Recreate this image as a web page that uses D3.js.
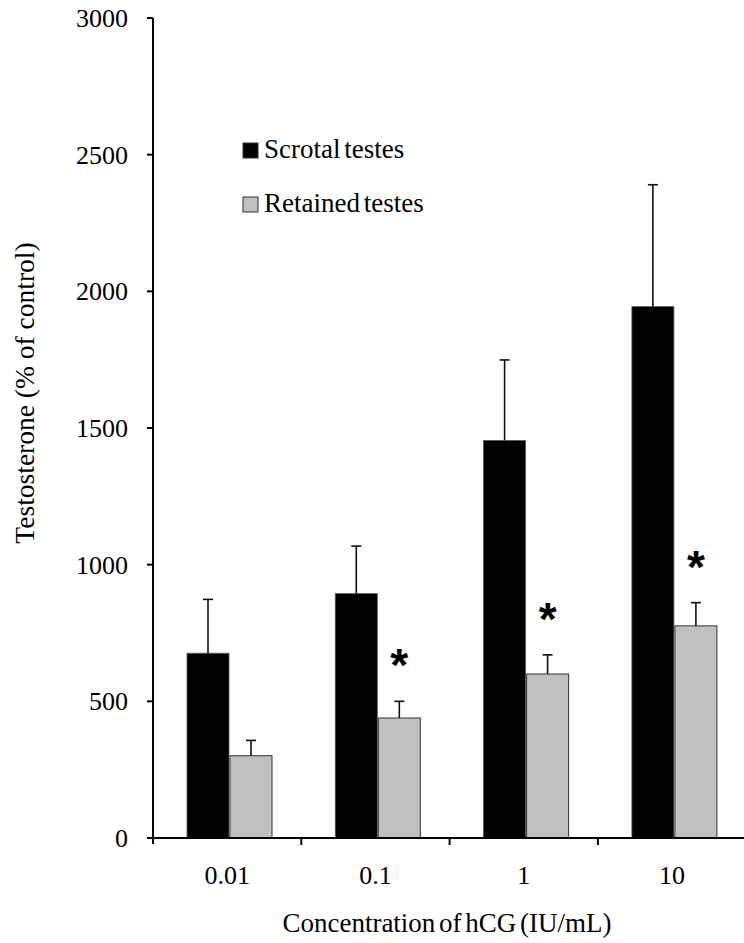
<!DOCTYPE html>
<html>
<head>
<meta charset="utf-8">
<script src="https://cdn.jsdelivr.net/npm/d3@7"></script>
<style>
  body { margin: 0; background: #fff; }
  svg text { font-family: "Liberation Serif", "Times New Roman", serif; fill: #000; }
</style>
</head>
<body>
<svg id="chart" width="744" height="943"></svg>
<script>
const categories = ['0.01', '0.1', '1', '10']
const scrotal = [676, 894, 1454, 1944]
const scrotalErr = [197, 174, 295, 446]
const retained = [301, 439, 600, 776]
const retainedErr = [56, 61, 70, 85]
const significant = [false, true, true, true]
const yTicks = [0, 500, 1000, 1500, 2000, 2500, 3000]
const seriesNames = ['Scrotal testes', 'Retained testes']
const seriesColors = ['#000000', '#c0c0c0']

const svg = d3.select('#chart')
const plotLeft = 153, plotTop = 18, plotBottom = 838
const bandW = 148.3

const x = d3.scaleBand()
    .domain(categories)
    .range([plotLeft, plotLeft + bandW * categories.length])

const y = d3.scaleLinear()
    .domain([0, 3000])
    .range([plotBottom, plotTop])

const barW = 42
const off = 34

// bars
const groups = svg.append('g')
    .selectAll('g')
    .data(categories)
    .enter()
    .append('g')

groups.append('rect')
    .attr('x', d => x(d) + off)
    .attr('y', (d, i) => y(scrotal[i]))
    .attr('width', barW)
    .attr('height', (d, i) => y(0) - y(scrotal[i]))
    .attr('fill', seriesColors[0])
    .attr('stroke', '#555')
    .attr('stroke-width', 0.8)

groups.append('rect')
    .attr('x', d => x(d) + off + barW + 1)
    .attr('y', (d, i) => y(retained[i]))
    .attr('width', barW)
    .attr('height', (d, i) => y(0) - y(retained[i]))
    .attr('fill', seriesColors[1])
    .attr('stroke', '#333')
    .attr('stroke-width', 1)

// error bars
function errBar(vals, errs, dx) {
    const g = svg.append('g').attr('stroke', '#111').attr('stroke-width', 1.6)
    categories.forEach((c, i) => {
        const cx = x(c) + off + dx
        g.append('line')
            .attr('x1', cx).attr('x2', cx)
            .attr('y1', y(vals[i])).attr('y2', y(vals[i] + errs[i]))
        g.append('line')
            .attr('x1', cx - 5).attr('x2', cx + 5)
            .attr('y1', y(vals[i] + errs[i])).attr('y2', y(vals[i] + errs[i]))
    })
}
errBar(scrotal, scrotalErr, barW / 2)
errBar(retained, retainedErr, barW + 1 + barW / 2)

// asterisks
svg.append('g')
    .selectAll('text')
    .data(categories.filter((c, i) => significant[i]))
    .enter()
    .append('text')
    .attr('x', d => x(d) + off + barW + 1 + barW / 2)
    .attr('y', d => {
        const i = categories.indexOf(d)
        return y(retained[i] + retainedErr[i]) - 20
    })
    .attr('text-anchor', 'middle')
    .style('font-family', '"Liberation Sans", Arial, sans-serif')
    .style('font-weight', 'bold')
    .style('font-size', '46px')
    .text('*')

// y axis
const yAxis = svg.append('g')
yAxis.append('line')
    .attr('x1', plotLeft).attr('x2', plotLeft)
    .attr('y1', y(3000)).attr('y2', plotBottom + 6)
    .attr('stroke', '#000').attr('stroke-width', 2)
yAxis.selectAll('.tk')
    .data(yTicks)
    .enter()
    .append('line')
    .attr('x1', plotLeft - 6).attr('x2', plotLeft)
    .attr('y1', d => y(d)).attr('y2', d => y(d))
    .attr('stroke', '#000').attr('stroke-width', 2)
yAxis.selectAll('text')
    .data(yTicks)
    .enter()
    .append('text')
    .attr('x', plotLeft - 25)
    .attr('y', d => y(d) + 9)
    .attr('text-anchor', 'end')
    .style('font-size', '26px')
    .text(d => d)

// x axis
const xAxis = svg.append('g')
xAxis.append('line')
    .attr('x1', plotLeft - 1).attr('x2', 744)
    .attr('y1', plotBottom).attr('y2', plotBottom)
    .attr('stroke', '#000').attr('stroke-width', 2)
xAxis.selectAll('.tk')
    .data(categories)
    .enter()
    .append('line')
    .attr('x1', d => x(d) + bandW).attr('x2', d => x(d) + bandW)
    .attr('y1', plotBottom).attr('y2', plotBottom + 7)
    .attr('stroke', '#000').attr('stroke-width', 2)
xAxis.selectAll('text')
    .data(categories)
    .enter()
    .append('text')
    .attr('x', d => x(d) + x.bandwidth() / 2)
    .attr('y', 884)
    .attr('text-anchor', 'middle')
    .style('font-size', '26px')
    .text(d => d)

svg.append('text')
    .attr('x', 447)
    .attr('y', 932)
    .attr('text-anchor', 'middle')
    .style('font-size', '27px')
    .style('word-spacing', '-3px')
    .text('Concentration of hCG (IU/mL)')

svg.append('text')
    .attr('transform', 'translate(34,393) rotate(-90)')
    .attr('text-anchor', 'middle')
    .style('font-size', '27.5px')
    .text('Testosterone (% of control)')

// legend
const legend = svg.append('g')
seriesNames.forEach((name, i) => {
    const ly = 143 + i * 54
    legend.append('rect')
        .attr('x', 243).attr('y', ly)
        .attr('width', 15).attr('height', 15)
        .attr('fill', seriesColors[i])
        .attr('stroke', '#333').attr('stroke-width', 1)
    legend.append('text')
        .attr('x', 264).attr('y', ly + 15)
        .style('font-size', '27px')
        .style('word-spacing', '-3px')
        .text(name)
})
</script>
</body>
</html>
